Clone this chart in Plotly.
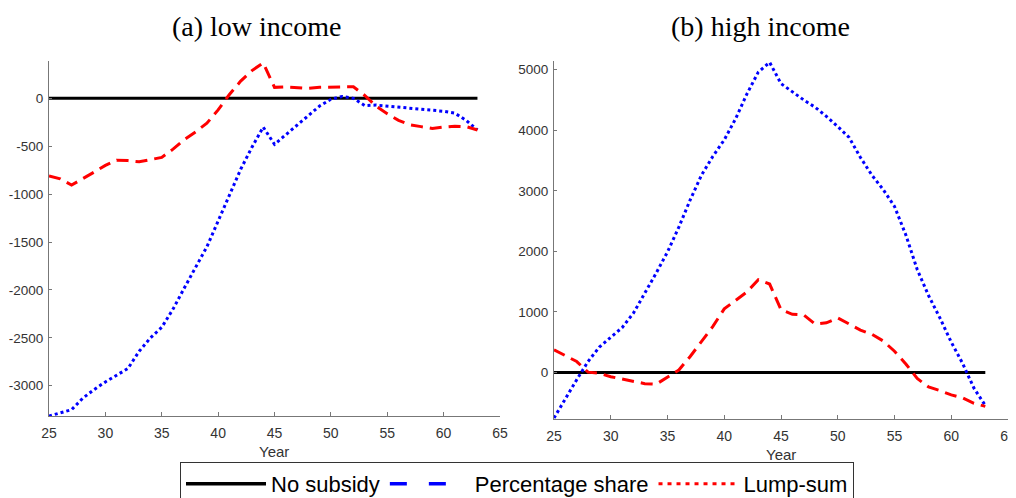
import plotly.graph_objects as go

years = list(range(25, 64))

low_percentage = [-3316, -3280, -3250, -3130, -3040, -2960, -2890, -2820, -2640, -2500,
                  -2390, -2200, -1980, -1760, -1550, -1280, -1000, -740, -510, -300,
                  -480, -380, -290, -190, -80, -10, 20, 0, -75, -70,
                  -80, -95, -105, -115, -125, -135, -155, -230, -330]
low_lump = [-810, -840, -905, -840, -770, -700, -645, -650, -662, -640,
            -616, -530, -430, -350, -260, -120, 40, 180, 290, 370,
            115, 120, 110, 105, 115, 120, 120, 120, 30, -80,
            -160, -230, -275, -295, -315, -300, -290, -295, -330]
high_percentage = [-753, -430, -120, 180, 420, 580, 740, 980, 1300, 1640,
                   1990, 2400, 2850, 3260, 3570, 3840, 4190, 4600, 4960, 5120,
                   4770, 4630, 4500, 4380, 4230, 4060, 3880, 3550, 3260, 3020,
                   2740, 2270, 1700, 1270, 900, 500, 150, -260, -545]
high_lump = [375, 280, 180, 5, -15, -70, -110, -150, -185, -195,
             -80, 40, 264, 520, 760, 1050, 1190, 1330, 1530, 1460,
             1035, 960, 950, 800, 820, 900, 800, 700, 630, 520,
             350, 140, -100, -240, -300, -370, -420, -510, -560]
no_subsidy = [0] * len(years)

x_ticks = [25, 30, 35, 40, 45, 50, 55, 60, 65]
low_y_ticks = [-3000, -2500, -2000, -1500, -1000, -500, 0]
high_y_ticks = [0, 1000, 2000, 3000, 4000, 5000]

panel_titles = ["(a) low income", "(b) high income"]
legend_names = ["No subsidy", "Percentage share", "Lump-sum"]

BLACK = "#000000"
BLUE = "#0000FF"
RED = "#FF0000"

fig = go.Figure()

for xa, ya, pct, lump in [("x", "y", low_percentage, low_lump),
                          ("x2", "y2", high_percentage, high_lump)]:
    fig.add_trace(go.Scatter(x=years, y=no_subsidy, xaxis=xa, yaxis=ya, mode="lines",
                             line=dict(color=BLACK, width=3), showlegend=False, hoverinfo="skip"))
    fig.add_trace(go.Scatter(x=years, y=pct, xaxis=xa, yaxis=ya, mode="lines",
                             line=dict(color=BLUE, width=3, dash="3px,3px"), showlegend=False))
    fig.add_trace(go.Scatter(x=years, y=lump, xaxis=xa, yaxis=ya, mode="lines",
                             line=dict(color=RED, width=3, dash="12px,7px"), showlegend=False))

# legend entries (styled as in the original figure's legend)
fig.add_trace(go.Scatter(x=[None], y=[None], mode="lines", name=legend_names[0],
                         line=dict(color=BLACK, width=3.5)))
fig.add_trace(go.Scatter(x=[None], y=[None], mode="lines", name=legend_names[1],
                         line=dict(color=BLUE, width=3.5, dash="17px,22px,17px,60px")))
fig.add_trace(go.Scatter(x=[None], y=[None], mode="lines", name=legend_names[2],
                         line=dict(color=RED, width=3, dash="4px,5px")))

# the page adds an 8px body margin: the figure is laid out in page pixels minus 8
W, H = 1008, 490
OFF = 8


def px_x(X):
    return (X - OFF) / W


def px_y(Y):
    return 1 - (Y - OFF) / H


xtickfont = dict(family="Liberation Sans, Arial, sans-serif", size=14, color="#333333")
ytickfont = dict(family="Liberation Sans, Arial, sans-serif", size=13.5, color="#333333")
axis_common = dict(showgrid=False, zeroline=False, showline=True, linecolor="#777777",
                   linewidth=1, ticks="inside", tickcolor="#777777",
                   mirror=False, automargin=False, ticklabeloverflow="allow")

fig.update_layout(
    width=W, height=H,
    margin=dict(l=0, r=0, t=0, b=0, autoexpand=False),
    paper_bgcolor="white", plot_bgcolor="white",
    showlegend=True,
    xaxis=dict(domain=[px_x(49), px_x(500)], range=[25, 65], tickvals=x_ticks,
               ticktext=[str(v) for v in x_ticks], ticklen=4, ticklabelstandoff=4,
               tickfont=xtickfont, anchor="y", **axis_common),
    yaxis=dict(domain=[px_y(416), px_y(61)], range=[-3316, 390],
               tickvals=low_y_ticks, ticktext=[str(v) for v in low_y_ticks],
               ticklen=3, ticklabelstandoff=2, tickfont=ytickfont, anchor="x", **axis_common),
    xaxis2=dict(domain=[px_x(554), px_x(1008)], range=[25, 65], tickvals=x_ticks,
                ticktext=[str(v) for v in x_ticks], ticklen=4, ticklabelstandoff=4,
                tickfont=xtickfont, anchor="y2", **axis_common),
    yaxis2=dict(domain=[px_y(419), px_y(61)], range=[-769, 5143],
                tickvals=high_y_ticks, ticktext=[str(v) for v in high_y_ticks],
                ticklen=3, ticklabelstandoff=2, tickfont=ytickfont, anchor="x2", **axis_common),
    legend=dict(orientation="h", x=px_x(517), xanchor="center", y=px_y(462), yanchor="top",
                bordercolor="#333333", borderwidth=1, bgcolor="white",
                font=dict(family="Liberation Sans, Arial, sans-serif", size=22, color="#000000"),
                itemwidth=80, tracegroupgap=0),
    annotations=[
        dict(text=panel_titles[0], x=px_x(257), y=px_y(26), xref="paper", yref="paper",
             showarrow=False, xanchor="center", yanchor="middle",
             font=dict(family="Liberation Serif, serif", size=28, color="#000000")),
        dict(text=panel_titles[1], x=px_x(760), y=px_y(26), xref="paper", yref="paper",
             showarrow=False, xanchor="center", yanchor="middle",
             font=dict(family="Liberation Serif, serif", size=28, color="#000000")),
        dict(text="Year", x=px_x(274), y=px_y(451), xref="paper", yref="paper",
             showarrow=False, xanchor="center", yanchor="middle",
             font=dict(family="Liberation Sans, Arial, sans-serif", size=15, color="#333333")),
        dict(text="Year", x=px_x(781), y=px_y(454), xref="paper", yref="paper",
             showarrow=False, xanchor="center", yanchor="middle",
             font=dict(family="Liberation Sans, Arial, sans-serif", size=15, color="#333333")),
    ],
)

fig.write_html("out.html")
